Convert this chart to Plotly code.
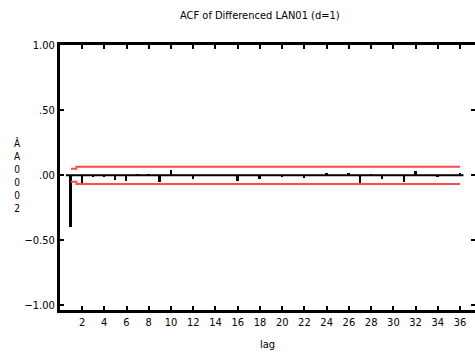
import plotly.graph_objects as go

# ---- data ----
lags = list(range(1, 37))
acf = [-0.40, -0.06, -0.01, -0.01, -0.035, -0.045, 0.012, 0.012, -0.05, 0.045,
       0.0, -0.025, 0.0, 0.0, 0.0, -0.04, 0.0, -0.025, 0.0, -0.01,
       0.0, -0.02, 0.0, 0.015, 0.0, 0.015, -0.055, 0.01, -0.03, 0.0,
       -0.05, 0.035, 0.0, -0.015, 0.0, 0.02]
band = [0.05] + [0.067] * 35
x_tickvals = list(range(2, 37, 2))
y_tickvals = [-1.0, -0.5, 0.0, 0.5, 1.0]
y_ticktext = ["\u22121.00", "\u22120.50", ".00", ".50", "1.00"]
title_text = "ACF of Differenced LAN01 (d=1)"
x_title = "lag"
y_title_chars = ["\u00c2", "A", "0", "0", "0", "2"]

FONT = "DejaVu Sans Condensed, Liberation Sans Narrow, Arial Narrow, sans-serif"

fig = go.Figure()

# confidence band lines
fig.add_trace(go.Scatter(x=lags, y=band, mode="lines", line=dict(color="#ff4a4a", width=2, shape="hvh"),
                         hoverinfo="skip", showlegend=False))
fig.add_trace(go.Scatter(x=lags, y=[-b for b in band], mode="lines",
                         line=dict(color="#ff4a4a", width=2, shape="hvh"),
                         hoverinfo="skip", showlegend=False))

# ACF spikes
fig.add_trace(go.Bar(x=lags, y=acf, width=0.17, marker=dict(color="black", line=dict(width=0)),
                     showlegend=False))

# dummy trace for right axis ticks
fig.add_trace(go.Scatter(x=[None], y=[None], yaxis="y2", showlegend=False))

# zero line
fig.add_shape(type="line", xref="x", yref="y", x0=0.55, x1=36.3, y0=0, y1=0,
              line=dict(color="black", width=2), layer="above")

fig.update_layout(
    width=475, height=355,
    margin=dict(l=60, r=0, t=44.5, b=44.5),
    paper_bgcolor="white", plot_bgcolor="white",
    font=dict(family=FONT, size=11, color="black"),
    bargap=0,
    xaxis=dict(range=[0.02, 37.34], tickvals=x_tickvals, ticks="inside", ticklen=4, tickwidth=2,
               tickcolor="black", showline=True, linewidth=3, linecolor="black", mirror="ticks",
               showgrid=False, zeroline=False, tickfont=dict(size=11, family=FONT)),
    yaxis=dict(range=[-1.037, 1.004], tickvals=y_tickvals, ticktext=y_ticktext, ticks="inside",
               ticklen=4, tickwidth=2, tickcolor="black", showline=True, linewidth=3,
               linecolor="black", showgrid=False, zeroline=False, tickfont=dict(size=11, family=FONT)),
    yaxis2=dict(overlaying="y", matches="y", side="right", tickvals=y_tickvals, ticks="inside",
                ticklen=4, tickwidth=2, tickcolor="black", showline=False, showgrid=False,
                zeroline=False, showticklabels=False),
    annotations=[
        dict(text=title_text, xref="paper", yref="paper", x=0.482, y=1.111, showarrow=False,
             xanchor="center", yanchor="middle", font=dict(size=11, family=FONT)),
        dict(text=x_title, xref="paper", yref="paper", x=0.5, y=-0.13, showarrow=False,
             xanchor="center", yanchor="middle", font=dict(size=11, family=FONT)),
        dict(text="<br>".join(y_title_chars), xref="paper", yref="paper", x=-0.1036, y=0.509,
             showarrow=False, xanchor="center", yanchor="middle", font=dict(size=10, family=FONT)),
    ],
)

fig.write_html("out.html")
